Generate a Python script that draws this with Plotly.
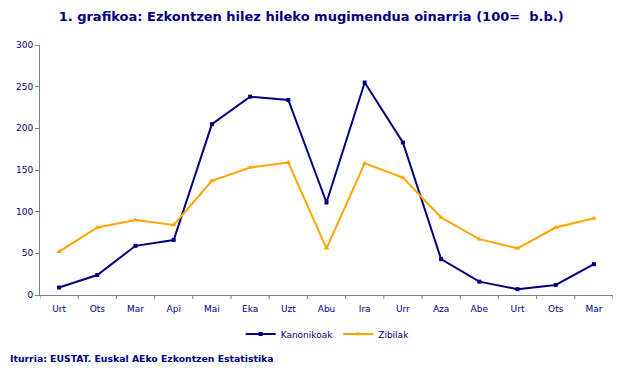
import plotly.graph_objects as go

months = ["Urt", "Ots", "Mar", "Api", "Mai", "Eka", "Uzt", "Abu", "Ira", "Urr", "Aza", "Abe", "Urt", "Ots", "Mar"]
kanonikoak = [9, 24, 59, 66, 205, 238, 234, 111, 255, 183, 43, 16, 7, 12, 37]
zibilak = [52, 81, 90, 84, 137, 153, 159, 56, 158, 141, 93, 67, 56, 81, 92]
y_ticks = [0, 50, 100, 150, 200, 250, 300]

navy = "#000080"
orange = "#FFA500"
x_idx = list(range(len(months)))

fig = go.Figure()
fig.add_trace(go.Scatter(x=x_idx, y=kanonikoak, name="Kanonikoak", mode="lines+markers",
                         line=dict(color=navy, width=2), marker=dict(symbol="square", size=4, color=navy)))
fig.add_trace(go.Scatter(x=x_idx, y=zibilak, name="Zibilak", mode="lines+markers",
                         line=dict(color=orange, width=2), marker=dict(symbol="triangle-up", size=5, color=orange)))

# the page body has an 8px default margin; the figure is sized to fill the window from there
fig.update_layout(
    width=625, height=366,
    margin=dict(l=32, r=20, t=37, b=79, autoexpand=False),
    paper_bgcolor="white", plot_bgcolor="white",
    font=dict(family="DejaVu Sans", color=navy, size=9),
    title=dict(text="<b>1. grafikoa: Ezkontzen hilez hileko mugimendua oinarria (100=  b.b.)</b>",
               x=0.485, xanchor="center", y=0.978, yanchor="middle",
               font=dict(family="DejaVu Sans", size=13, color=navy)),
    xaxis=dict(range=[-0.5, len(months) - 0.5], tickmode="array", tickvals=x_idx, ticktext=months,
               showgrid=False, showline=True, linecolor="#808080", linewidth=1,
               ticks="outside", ticklen=5, tickcolor="rgba(0,0,0,0)",
               tickfont=dict(size=9, color=navy), zeroline=False),
    yaxis=dict(range=[0, 300], tickvals=y_ticks, showgrid=False, showline=True, linecolor="#808080",
               linewidth=1, ticks="outside", ticklen=4, tickcolor="#808080",
               tickfont=dict(size=9, color=navy), zeroline=False),
    legend=dict(orientation="h", x=0.502, xanchor="center", y=-0.156, yanchor="middle",
                font=dict(size=9, color=navy), itemwidth=30, tracegroupgap=0),
    showlegend=True,
)

# category separator ticks on the x axis
shapes = []
for i in range(len(months) + 1):
    shapes.append(dict(type="line", xref="x", yref="paper", x0=i - 0.5, x1=i - 0.5, y0=0, y1=-0.016,
                       line=dict(color="#808080", width=1)))
fig.update_layout(shapes=shapes)

fig.add_annotation(text="<b>Iturria: EUSTAT. Euskal AEko Ezkontzen Estatistika</b>",
                   xref="paper", yref="paper", x=-0.056, y=-0.254, xanchor="left", yanchor="middle",
                   showarrow=False, font=dict(family="DejaVu Sans", size=9.3, color=navy))

fig.write_html("out.html")
